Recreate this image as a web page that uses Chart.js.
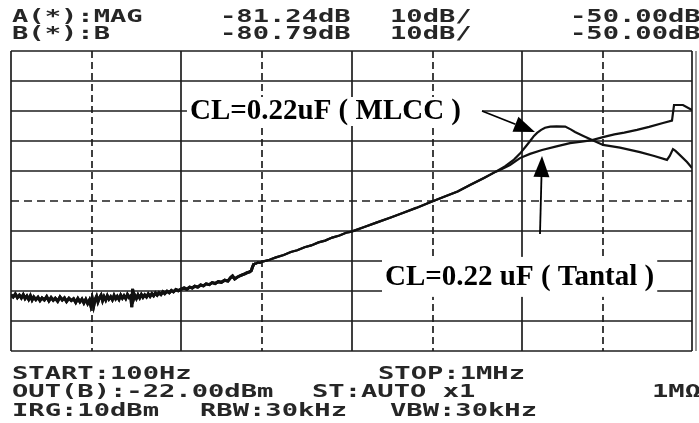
<!DOCTYPE html>
<html>
<head>
<meta charset="utf-8">
<script src="https://cdn.jsdelivr.net/npm/chart.js@4.4.1/dist/chart.umd.min.js"></script>
<style>
html,body{margin:0;padding:0;background:#fff;}
#wrap{position:relative;width:699px;height:423px;overflow:hidden;background:#fff;}
#c{position:absolute;left:0;top:0;}
.t{position:absolute;font-family:"DejaVu Sans Mono",monospace;font-weight:bold;font-size:17.5px;line-height:17.5px;color:#262626;white-space:pre;transform:scaleX(1.55);transform-origin:0 0;}
</style>
</head>
<body>
<div id="wrap">
  <canvas id="c" width="699" height="423"></canvas>
</div>
<script>
// ---------------- data (frequency in Hz, level in dB) ----------------
// shared low-frequency part (both traces overlap)
const sharedFreq = [100,103,106,109,112,115,118,121,124,127,130,133,136,140,144,148,152,157,162,167,172,177,182,188,194,200,206,212,219,226,233,240,247,254,261,268,275,282,289,294,300,306,312,318,324,331,338,345,352,360,368,376,385,394,403,412,421,431,441,451,461,472,483,494,505,512,518,525,533,545,557,570,583,596,610,625,640,656,672,688,705,722,740,760,780,800,825,850,875,900,930,960,1000,1040,1080,1120,1160,1200,1250,1300,1350,1400,1460,1520,1580,1650,1720,1800,1880,1950,2000,2060,2130,2200,2280,2360,2440,2520,2580,2620,2680,2750,2820,2900,3000,3300,3600,4000,4400,4800,5300,5800,6400,7000,7700,8500,9300,10000,12000,14000,17000,20000,24000,29000,35000,42000,50000,60000,70000];
const sharedDB = [-131.3,-132.0,-131.0,-132.2,-131.4,-132.3,-131.2,-132.5,-131.7,-132.8,-131.6,-133.0,-132.0,-132.9,-132.1,-133.2,-132.3,-133.0,-131.9,-133.3,-132.2,-133.1,-132.4,-133.4,-132.0,-133.0,-132.3,-133.5,-132.4,-133.2,-132.6,-133.8,-132.5,-133.6,-132.7,-134.0,-132.8,-134.2,-133.0,-134.8,-132.4,-135.0,-132.8,-131.8,-133.6,-132.2,-131.4,-133.2,-131.9,-133.0,-131.6,-132.7,-131.9,-132.9,-131.5,-132.6,-131.8,-132.8,-131.4,-132.4,-131.6,-132.5,-131.2,-132.1,-131.6,-135.4,-129.3,-132.6,-131.4,-132.5,-131.3,-132.3,-131.2,-132.1,-131.3,-132.0,-131.0,-131.8,-130.9,-131.6,-130.7,-131.4,-130.6,-131.2,-130.3,-130.9,-130.1,-130.6,-129.8,-130.3,-129.5,-129.9,-129.4,-129.0,-129.4,-128.7,-129.0,-128.4,-128.7,-128.0,-128.3,-127.6,-127.9,-127.2,-127.5,-126.9,-127.1,-126.4,-126.7,-125.5,-125.0,-126.0,-125.4,-125.0,-124.6,-124.3,-123.9,-123.6,-123.2,-122.0,-120.8,-120.9,-120.5,-120.6,-120.2,-119.6,-118.8,-118.0,-117.0,-116.4,-115.4,-114.8,-113.8,-113.2,-112.2,-111.5,-110.6,-110.2,-108.6,-107.2,-105.5,-104.0,-102.3,-100.4,-98.6,-96.8,-94.6,-92.3,-90.3];

// CL = 0.22uF (MLCC) above the split
const mlccFreq = [80000,90000,97600,105000,112000,118000,123000,130000,137000,147000,160000,180000,195000,205500,230000,259000,300000,377600,494900,600000,712900,740000,773000,800000,849500,934600,1000000];
const mlccDB = [-88.4,-86.2,-84.2,-82.0,-80.0,-78.3,-77.3,-76.3,-75.6,-75.2,-75.1,-75.2,-76.2,-77.0,-78.3,-79.7,-81.3,-82.2,-83.7,-85.0,-86.3,-85.0,-82.7,-83.3,-84.7,-87.0,-89.0];

// CL = 0.22uF (Tantal) above the split
const tantalFreq = [74500,85300,97600,111800,131500,160000,192000,225000,259000,300000,350000,400000,475300,560000,675500,762800,784200,885100,1000000];
const tantalDB = [-89.7,-88.0,-85.7,-84.3,-83.0,-81.8,-80.7,-80.2,-79.7,-78.7,-77.8,-77.2,-76.3,-75.3,-74.0,-73.2,-68.0,-68.0,-69.7];

// grid / scale definition
const xGridTicks = [100,300,1000,3000,10000,30000,100000,300000,1000000];
const xDashedTicks = [300,3000,30000,300000];
const yGridTicks = [-50,-60,-70,-80,-90,-100,-110,-120,-130,-140,-150];
const yDashedTicks = [-100];

// texts
const headerRow1 = ["A(*):MAG","-81.24dB","10dB/","-50.00dB"];
const headerRow2 = ["B(*):B","-80.79dB","10dB/","-50.00dB"];
const footerRow1 = ["START:100Hz","STOP:1MHz"];
const footerRow2 = ["OUT(B):-22.00dBm","ST:AUTO x1","1MΩ"];
const footerRow3 = ["IRG:10dBm","RBW:30kHz","VBW:30kHz"];
const labelMLCC = "CL=0.22uF ( MLCC )";
const labelTantal = "CL=0.22 uF ( Tantal )";

// ---------------- layout (positions only) ----------------
const headerX = [12,220,390,570];
const headerTop = [8,25];
const footerX1 = [12,378];
const footerX2 = [12,312,652];
const footerX3 = [12,200,390];
const footerTop = [365,383,402];

// annotation anchors in data coordinates
const mlccLabelAt = {x:1125, y:-70};
const tantalLabelAt = {x:15730, y:-125.3};
const mlccArrow = {from:{x:58430,y:-70}, to:{x:119600,y:-77}};
const tantalArrow = {from:{x:128000,y:-111}, to:{x:131500,y:-85}};

// ---------------- HTML text ----------------
const wrap = document.getElementById('wrap');
function addText(str, x, top){
  const d = document.createElement('div');
  d.className = 't';
  d.textContent = str;
  d.style.left = x + 'px';
  d.style.top = top + 'px';
  wrap.appendChild(d);
}
headerRow1.forEach((s,i)=>addText(s, headerX[i], headerTop[0]));
headerRow2.forEach((s,i)=>addText(s, headerX[i], headerTop[1]));
footerRow1.forEach((s,i)=>addText(s, footerX1[i], footerTop[0]));
footerRow2.forEach((s,i)=>addText(s, footerX2[i], footerTop[1]));
footerRow3.forEach((s,i)=>addText(s, footerX3[i], footerTop[2]));

// ---------------- chart ----------------
const toPts = (fs, ds) => fs.map((f,i)=>({x:f, y:ds[i]}));
const mlccData = toPts(sharedFreq, sharedDB).concat(toPts(mlccFreq, mlccDB));
const tantalData = toPts(sharedFreq, sharedDB).concat(toPts(tantalFreq, tantalDB));

const gridPlugin = {
  id:'gridPlugin',
  beforeDatasetsDraw(chart){
    const {ctx, chartArea:a, scales:{x, y}} = chart;
    ctx.save();
    ctx.strokeStyle = '#1e1e1e';
    ctx.lineWidth = 1.7;
    xGridTicks.forEach(v=>{
      const px = Math.round(x.getPixelForValue(v));
      ctx.setLineDash(xDashedTicks.includes(v) ? [7,4] : []);
      ctx.beginPath(); ctx.moveTo(px, a.top); ctx.lineTo(px, a.bottom); ctx.stroke();
    });
    yGridTicks.forEach(v=>{
      const py = Math.round(y.getPixelForValue(v));
      ctx.setLineDash(yDashedTicks.includes(v) ? [8,5] : []);
      ctx.beginPath(); ctx.moveTo(a.left, py); ctx.lineTo(a.right, py); ctx.stroke();
    });
    // faint second right border line, as on the instrument screen
    ctx.setLineDash([]);
    ctx.strokeStyle = '#9a9a9a';
    ctx.lineWidth = 2;
    ctx.beginPath(); ctx.moveTo(a.right+4, a.top); ctx.lineTo(a.right+4, a.bottom); ctx.stroke();
    ctx.restore();
  }
};

function arrow(ctx, x1, y1, x2, y2){
  const ang = Math.atan2(y2-y1, x2-x1);
  const len = 21, hw = 8;
  const bx = x2 - len*Math.cos(ang), by = y2 - len*Math.sin(ang);
  ctx.beginPath(); ctx.moveTo(x1,y1); ctx.lineTo(bx,by); ctx.stroke();
  ctx.beginPath();
  ctx.moveTo(x2,y2);
  ctx.lineTo(bx + hw*Math.sin(ang), by - hw*Math.cos(ang));
  ctx.lineTo(bx - hw*Math.sin(ang), by + hw*Math.cos(ang));
  ctx.closePath(); ctx.fill();
}

const annotPlugin = {
  id:'annotPlugin',
  afterDatasetsDraw(chart){
    const {ctx, scales:{x, y}} = chart;
    ctx.save();
    ctx.font = 'bold 29px "Liberation Serif", "Times New Roman", serif';
    ctx.textBaseline = 'middle';
    ctx.textAlign = 'left';
    // MLCC label
    let lx = x.getPixelForValue(mlccLabelAt.x), ly = y.getPixelForValue(mlccLabelAt.y);
    let w = ctx.measureText(labelMLCC).width;
    const ax1 = x.getPixelForValue(mlccArrow.from.x);
    ctx.fillStyle = '#fff';
    ctx.fillRect(lx-3, ly-14, Math.max(w+6, ax1-lx+3), 29);
    ctx.fillStyle = '#000';
    ctx.fillText(labelMLCC, lx, ly+1);
    // Tantal label
    lx = x.getPixelForValue(tantalLabelAt.x); ly = y.getPixelForValue(tantalLabelAt.y);
    w = ctx.measureText(labelTantal).width;
    ctx.fillStyle = '#fff';
    ctx.fillRect(lx-3, ly-20, w+6, 40);
    ctx.fillStyle = '#000';
    ctx.fillText(labelTantal, lx, ly+1);
    // arrows
    ctx.strokeStyle = '#000'; ctx.fillStyle = '#000'; ctx.lineWidth = 1.8;
    arrow(ctx, x.getPixelForValue(mlccArrow.from.x), y.getPixelForValue(mlccArrow.from.y),
               x.getPixelForValue(mlccArrow.to.x), y.getPixelForValue(mlccArrow.to.y));
    arrow(ctx, x.getPixelForValue(tantalArrow.from.x), y.getPixelForValue(tantalArrow.from.y),
               x.getPixelForValue(tantalArrow.to.x), y.getPixelForValue(tantalArrow.to.y));
    ctx.restore();
  }
};

const segWidth = c => (c.p0.parsed.x < 2650 ? 3 : 2.2);

new Chart(document.getElementById('c'), {
  type:'line',
  data:{
    datasets:[
      {label:labelMLCC, data:mlccData, borderColor:'#111', borderWidth:2.2, segment:{borderWidth:segWidth}, pointRadius:0, tension:0, fill:false},
      {label:labelTantal, data:tantalData, borderColor:'#111', borderWidth:2.2, segment:{borderWidth:segWidth}, pointRadius:0, tension:0, fill:false}
    ]
  },
  options:{
    responsive:false,
    animation:false,
    devicePixelRatio:1,
    layout:{padding:{left:11, top:51, right:7, bottom:72}},
    plugins:{legend:{display:false}, tooltip:{enabled:false}},
    scales:{
      x:{type:'logarithmic', min:100, max:1000000, display:false},
      y:{type:'linear', min:-150, max:-50, display:false}
    }
  },
  plugins:[gridPlugin, annotPlugin]
});
</script>
</body>
</html>
